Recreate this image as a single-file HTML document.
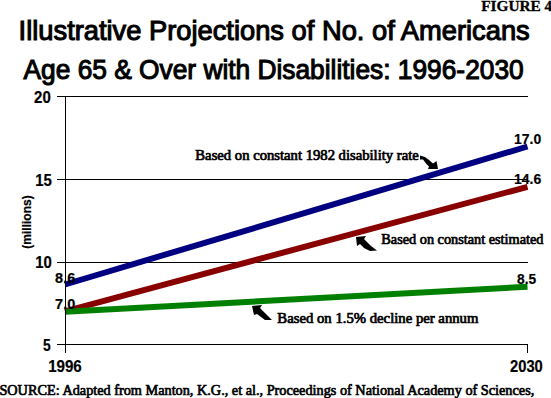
<!DOCTYPE html>
<html><head><meta charset="utf-8">
<style>
html,body{margin:0;padding:0;background:#fff;}
body{width:551px;height:398px;position:relative;overflow:hidden;}
svg{position:absolute;left:0;top:0;}
</style></head><body>
<svg width="551" height="398" viewBox="0 0 551 398">
  <defs>
    <pattern id="pb" width="2" height="2" patternUnits="userSpaceOnUse"><rect width="2" height="2" fill="#0000b0"/><rect width="1" height="1" fill="#000050"/><rect x="1" y="1" width="1" height="1" fill="#000060"/></pattern>
    <pattern id="pr" width="2" height="2" patternUnits="userSpaceOnUse"><rect width="2" height="2" fill="#b00000"/><rect width="1" height="1" fill="#600000"/><rect x="1" y="1" width="1" height="1" fill="#700000"/></pattern>
    <pattern id="pg" width="2" height="2" patternUnits="userSpaceOnUse"><rect width="2" height="2" fill="#00a800"/><rect width="1" height="1" fill="#005800"/><rect x="1" y="1" width="1" height="1" fill="#006000"/></pattern>
  </defs>
  <g stroke="#000" stroke-width="1" fill="none" shape-rendering="crispEdges">
    <line x1="57" y1="96.5" x2="528" y2="96.5"/>
    <line x1="57" y1="179.5" x2="528" y2="179.5"/>
    <line x1="57" y1="262.5" x2="528" y2="262.5"/>
  </g>
  <g stroke-width="6" fill="none">
    <line x1="65" y1="284.5" x2="527.5" y2="146.5" stroke="#000080"/>
    <line x1="65" y1="311.3" x2="527.5" y2="186.8" stroke="#880000"/>
    <line x1="65" y1="311.8" x2="527.5" y2="286.8" stroke="#008000"/>
  </g>
  <g stroke="#000" stroke-width="1" fill="none" shape-rendering="crispEdges">
    <line x1="57" y1="344.5" x2="528" y2="344.5"/>
    <line x1="65.5" y1="96" x2="65.5" y2="353"/>
    <line x1="527.5" y1="344" x2="527.5" y2="353"/>
  </g>
  <g fill="#000">
    <path d="M420,155.5 L425,157 L429,160 L433,163.5 L436.5,161 L438,169 L428,169 L429,166.5 L426,163.5 L423,159.5 L420,159.5 Z"/>
    <path d="M356,237 L366,236 L364,239 L367,242 L371,246 L377,250.5 L370,251 L364,248 L360,244 L357,246 Z"/>
    <path d="M252,306 L262,305 L260,308 L265,313 L272,320 L265,320 L257,314 L254,315 Z"/>
  </g>
  <text transform="translate(30.5 222) rotate(-90)" font-family="Liberation Sans" font-size="12" font-weight="bold" text-anchor="middle" stroke="#000" stroke-width="0.2">(millions)</text>
<text transform="translate(18.60 40.45) scale(0.9750 1)" font-family="Liberation Sans" font-size="28" font-weight="normal" stroke="#000" stroke-width="1.1">Illustrative Projections of No. of Americans</text>
<text transform="translate(23.55 79.45) scale(0.9402 1)" font-family="Liberation Sans" font-size="28" font-weight="normal" stroke="#000" stroke-width="1.1">Age 65 &amp; Over with Disabilities: 1996-2030</text>
<text transform="translate(481.15 10.85) scale(1.0230 1)" font-family="Liberation Serif" font-size="15" font-weight="bold" stroke="#000" stroke-width="0.3">FIGURE 4</text>
<text transform="translate(34.10 102.9) scale(0.9386 1)" font-family="Liberation Sans" font-size="16" font-weight="bold" stroke="#000" stroke-width="0.2">20</text>
<text transform="translate(35.17 185.9) scale(0.9350 1)" font-family="Liberation Sans" font-size="16" font-weight="bold" stroke="#000" stroke-width="0.2">15</text>
<text transform="translate(35.17 267.9) scale(0.9350 1)" font-family="Liberation Sans" font-size="16" font-weight="bold" stroke="#000" stroke-width="0.2">10</text>
<text transform="translate(43.10 350.9) scale(0.8667 1)" font-family="Liberation Sans" font-size="16" font-weight="bold" stroke="#000" stroke-width="0.2">5</text>
<text transform="translate(48.15 371.9) scale(0.9454 1)" font-family="Liberation Sans" font-size="16" font-weight="bold" stroke="#000" stroke-width="0.2">1996</text>
<text transform="translate(510.10 371.9) scale(0.9189 1)" font-family="Liberation Sans" font-size="16" font-weight="bold" stroke="#000" stroke-width="0.2">2030</text>
<text transform="translate(514.10 143.9) scale(0.9289 1)" font-family="Liberation Sans" font-size="15" font-weight="bold" stroke="#000" stroke-width="0.2">17.0</text>
<text transform="translate(514.10 183.9) scale(0.9289 1)" font-family="Liberation Sans" font-size="15" font-weight="bold" stroke="#000" stroke-width="0.2">14.6</text>
<text transform="translate(55.10 282.9) scale(0.9654 1)" font-family="Liberation Sans" font-size="15" font-weight="bold" stroke="#000" stroke-width="0.2">8.6</text>
<text transform="translate(55.10 308.9) scale(0.9654 1)" font-family="Liberation Sans" font-size="15" font-weight="bold" stroke="#000" stroke-width="0.2">7.0</text>
<text transform="translate(517.10 283.9) scale(0.9166 1)" font-family="Liberation Sans" font-size="15" font-weight="bold" stroke="#000" stroke-width="0.2">8.5</text>
<text transform="translate(195.35 159.65) scale(1.0472 1)" font-family="Liberation Serif" font-size="14" font-weight="normal" stroke="#000" stroke-width="0.7">Based on constant 1982 disability rate</text>
<text transform="translate(381.35 243.65) scale(1.0206 1)" font-family="Liberation Serif" font-size="14" font-weight="normal" stroke="#000" stroke-width="0.7">Based on constant estimated</text>
<text transform="translate(277.35 322.65) scale(1.0518 1)" font-family="Liberation Serif" font-size="14" font-weight="normal" stroke="#000" stroke-width="0.7">Based on 1.5% decline per annum</text>
<text transform="translate(-0.60 394.65) scale(0.9513 1)" font-family="Liberation Serif" font-size="15" font-weight="normal" stroke="#000" stroke-width="0.7">SOURCE: Adapted from Manton, K.G., et al., Proceedings of National Academy of Sciences,</text>
</svg>
</body></html>
